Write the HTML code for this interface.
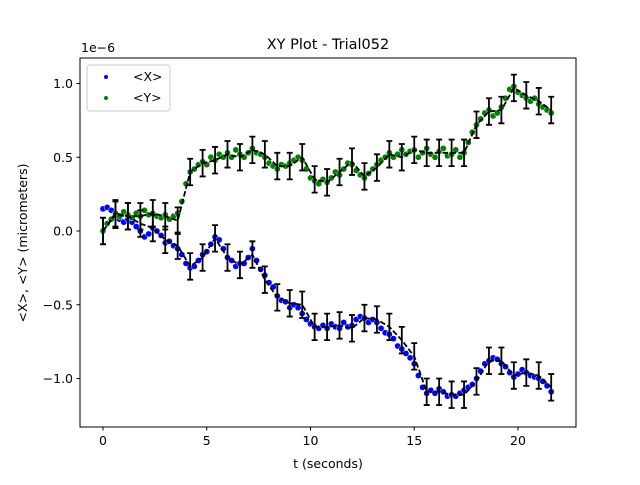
<!DOCTYPE html>
<html><head><meta charset="utf-8"><style>
body{margin:0;background:#fff}
svg text{font-family:"DejaVu Sans","Liberation Sans",sans-serif;fill:#000}
</style></head><body>
<svg id="chart" width="640" height="480">
<rect width="640" height="480" fill="#fff"/>
<text x="328" y="49" font-size="14.5" text-anchor="middle">XY Plot - Trial052</text>
<text x="81" y="52" font-size="12.5">1e−6</text>
<text x="328" y="468" font-size="12.5" text-anchor="middle">t (seconds)</text>
<text transform="translate(27,243) rotate(-90)" font-size="12.5" text-anchor="middle">&lt;X&gt;, &lt;Y&gt; (micrometers)</text>
<g id="ticks"></g>
<g id="plot"></g>
<rect x="80" y="58" width="496" height="369" fill="none" stroke="#000" stroke-width="1"/>
<g>
<rect x="87" y="65" width="83" height="46" rx="3" fill="#fff" fill-opacity="0.8" stroke="#ccc"/>
<circle cx="106" cy="77" r="2" fill="#0000ff"/>
<text x="133" y="81" font-size="12.5">&lt;X&gt;</text>
<circle cx="106" cy="98" r="2" fill="#008000"/>
<text x="133" y="102" font-size="12.5">&lt;Y&gt;</text>
</g>
</svg>
<script>
const xTicks=[0,5,10,15,20];
const yTicks=[1.0,0.5,0.0,-0.5,-1.0];
const yTickLabels=["1.0","0.5","0.0","−0.5","−1.0"];
const dotStep=0.2;
const meanStep=0.6;
const xDots=[0.15,0.16,0.14,0.11,0.08,0.06,0.08,0.06,0.03,0.00,-0.04,-0.02,0.02,0.0,-0.03,-0.08,-0.07,-0.1,-0.12,-0.16,-0.22,-0.25,-0.24,-0.2,-0.16,-0.14,-0.09,-0.04,-0.06,-0.12,-0.18,-0.2,-0.24,-0.22,-0.22,-0.18,-0.12,-0.2,-0.26,-0.3,-0.35,-0.38,-0.44,-0.47,-0.48,-0.52,-0.5,-0.52,-0.56,-0.6,-0.63,-0.65,-0.66,-0.64,-0.66,-0.63,-0.65,-0.66,-0.62,-0.65,-0.64,-0.6,-0.58,-0.59,-0.62,-0.6,-0.62,-0.66,-0.69,-0.7,-0.73,-0.78,-0.8,-0.83,-0.86,-0.9,-0.98,-1.06,-1.1,-1.08,-1.1,-1.07,-1.09,-1.12,-1.11,-1.12,-1.1,-1.08,-1.06,-1.04,-1.0,-0.95,-0.9,-0.88,-0.86,-0.87,-0.9,-0.92,-0.96,-0.99,-0.97,-0.94,-0.96,-0.98,-0.99,-1.0,-1.02,-1.05,-1.09];
const yDots=[0.0,0.05,0.08,0.12,0.1,0.13,0.11,0.09,0.12,0.1,0.14,0.11,0.12,0.1,0.09,0.11,0.08,0.1,0.12,0.2,0.32,0.4,0.42,0.45,0.47,0.45,0.5,0.48,0.52,0.5,0.53,0.5,0.55,0.52,0.5,0.53,0.56,0.53,0.52,0.5,0.46,0.44,0.42,0.45,0.44,0.46,0.48,0.5,0.48,0.42,0.36,0.34,0.32,0.35,0.33,0.36,0.4,0.38,0.42,0.46,0.45,0.41,0.38,0.36,0.39,0.42,0.45,0.48,0.5,0.53,0.5,0.52,0.55,0.52,0.54,0.55,0.5,0.53,0.56,0.52,0.5,0.54,0.56,0.51,0.52,0.55,0.5,0.53,0.6,0.67,0.72,0.76,0.8,0.82,0.78,0.8,0.84,0.9,0.96,0.98,0.94,0.92,0.9,0.88,0.9,0.86,0.84,0.82,0.8];
const xMeans=[0.0,0.11,0.1,0.05,0.02,-0.06,-0.1,-0.24,-0.18,-0.05,-0.18,-0.23,-0.16,-0.33,-0.45,-0.49,-0.5,-0.65,-0.65,-0.64,-0.66,-0.59,-0.6,-0.65,-0.74,-0.85,-1.09,-1.09,-1.11,-1.11,-1.02,-0.88,-0.88,-0.98,-0.96,-0.98,-1.06];
const yMeans=[0.0,0.12,0.1,0.1,0.12,0.1,0.07,0.4,0.46,0.48,0.52,0.5,0.55,0.52,0.44,0.44,0.5,0.35,0.33,0.4,0.47,0.37,0.43,0.52,0.5,0.55,0.53,0.53,0.53,0.53,0.72,0.81,0.82,0.97,0.92,0.88,0.82];
const xErr=[0.09,0.09,0.09,0.09,0.09,0.09,0.09,0.09,0.09,0.09,0.09,0.09,0.09,0.09,0.09,0.09,0.09,0.09,0.09,0.09,0.09,0.09,0.09,0.09,0.09,0.09,0.09,0.09,0.09,0.09,0.09,0.09,0.09,0.09,0.09,0.09,0.09];
const yErr=xErr.slice();

const NS="http://www.w3.org/2000/svg";
const X=t=>103+t*20.75;
const Y=v=>231-v*147.5;
function mk(tag,attrs,parent){const e=document.createElementNS(NS,tag);for(const k in attrs)e.setAttribute(k,attrs[k]);parent.appendChild(e);return e;}
const ticks=document.getElementById('ticks');
const plot=document.getElementById('plot');
xTicks.forEach(v=>{
  const l=mk('line',{x1:X(v),x2:X(v),y1:427,y2:430.5,stroke:'#000'},ticks);
  
  
  const t=mk('text',{x:X(v),y:445,'font-size':12.5,'text-anchor':'middle'},ticks);
  t.textContent=String(v);
  
  
});
yTicks.forEach((v,i)=>{
  const l=mk('line',{x1:76.5,x2:80,y1:Y(v),y2:Y(v),stroke:'#000'},ticks);
  
  
  const t=mk('text',{x:73,y:Y(v)+4.5,'font-size':12.5,'text-anchor':'end'},ticks);
  t.textContent=yTickLabels[i];
  
  
});
function dots(arr,color,name){
  arr.forEach((v,i)=>{
    const c=mk('circle',{cx:X(i*dotStep),cy:Y(v),r:3.1,fill:color,stroke:'#fff','stroke-width':0.5},plot);
    
    
  });
}
dots(xDots,'#0000ff','x-dot');
dots(yDots,'#008000','y-dot');
function means(arr,err,name){
  const p=mk('polyline',{points:arr.map((v,i)=>X(i*meanStep)+','+Y(v)).join(' '),fill:'none',stroke:'#000','stroke-width':1.8,'stroke-dasharray':'5.5,2.4'},plot);
  
  
  arr.forEach((v,i)=>{
    const x=X(i*meanStep),y1=Y(v+err[i]),y2=Y(v-err[i]);
    const g=mk('path',{d:`M${x},${y1}V${y2}M${x-3},${y1}H${x+3}M${x-3},${y2}H${x+3}`,stroke:'#000','stroke-width':1.8,fill:'none'},plot);
    
    
  });
}
means(xMeans,xErr,'x');
means(yMeans,yErr,'y');
</script>
</body></html>
